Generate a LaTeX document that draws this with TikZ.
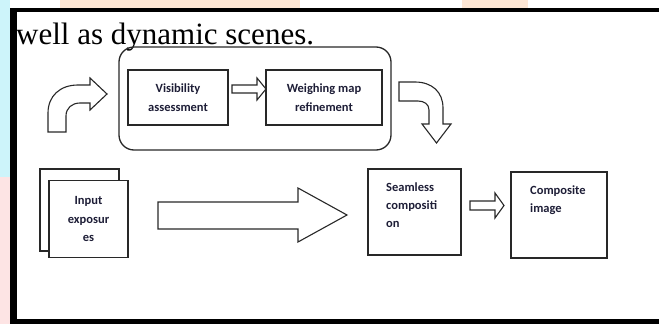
\documentclass[tikz,border=0pt]{standalone}
\usepackage{fontspec}
\setmainfont{Liberation Serif}
\newfontfamily\boxfont{Carlito}
\definecolor{cyanstrip}{RGB}{205,244,250}
\definecolor{pinkstrip}{RGB}{253,228,228}
\definecolor{peach}{RGB}{253,230,212}
\definecolor{txt}{RGB}{30,30,55}
\definecolor{edge}{RGB}{40,40,40}
\tikzset{
  procbox/.style={draw=edge, line width=1.1pt, fill=white, inner sep=0pt, font=\boxfont\bfseries\fontsize{12.5}{18.5}\selectfont, text=txt, align=center},
  boxtext/.style={inner sep=0pt, font=\boxfont\bfseries\fontsize{12.5}{18}\selectfont, text=txt, align=left, anchor=north west},
  blockarrow/.style={draw=edge, line width=1.1pt, fill=white, line join=miter},
}
\begin{document}
\begin{tikzpicture}[x=1pt,y=-1pt]
\useasboundingbox (0,0) rectangle (659,324);
\fill[white] (0,0) rectangle (659,324);
% page background strips
\fill[cyanstrip] (0,0) rectangle (10,177);
\fill[pinkstrip] (0,177) rectangle (10,324);
\fill[peach] (60,0) rectangle (300,8);
\fill[peach] (462,0) rectangle (528,8);
% black frame
\fill[black] (10,8) rectangle (659,12);
\fill[black] (10,8) rectangle (17,324);
\fill[black] (10,319) rectangle (659,324);
% heading text
\node[anchor=base west, inner sep=0pt, font=\fontsize{31}{36}\selectfont] (head) at (16,45) {well as dynamic scenes.};
% rounded group
\node[draw=edge, line width=1.3pt, rounded corners=15pt, minimum width=272pt, minimum height=103pt, inner sep=0pt] (group) at (255,98.5) {};
% process boxes
\node[procbox, minimum width=100pt, minimum height=55pt] (vis) at (178,97.5) {Visibility\\assessment};
\node[procbox, minimum width=116pt, minimum height=55pt] (weigh) at (324,97.5) {Weighing map\\refinement};
\node[procbox, minimum width=79pt, minimum height=82pt] (inback) at (79.5,210) {};
\node[procbox, minimum width=79pt, minimum height=77pt] (input) at (88.5,219) {Input\\exposur\\es};
\node[procbox, minimum width=93pt, minimum height=86pt] (seam) at (414.5,212) {};
\node[boxtext] (seamtxt) at (386,183) {Seamless\\compositi\\on};
\node[procbox, minimum width=96pt, minimum height=86pt] (comp) at (559,215) {};
\node[boxtext] (comptxt) at (530,185.5) {Composite\\image};
% block arrows
\draw[blockarrow] (232,85) -- (257,85) -- (257,78) -- (266,89) -- (257,100) -- (257,93) -- (232,93) -- cycle;
\draw[blockarrow] (158,202) -- (298,202) -- (298,188) -- (347,215) -- (298,242) -- (298,229) -- (158,229) -- cycle;
\draw[blockarrow] (470,201) -- (495,201) -- (495,193) -- (504,205.5) -- (495,218) -- (495,210) -- (470,210) -- cycle;
% curved arrows
\draw[blockarrow] (48,132) -- (48,113) .. controls (48,96) and (60,85) .. (78,85) -- (90,85) -- (90,78) -- (107,94) -- (90,110) -- (90,103) -- (80,103) .. controls (72,103) and (66,108) .. (66,116) -- (66,132) -- cycle;
\draw[blockarrow] (399,82) -- (415,82) .. controls (432,82) and (443,92) .. (443,108) -- (443,124) -- (451,124) -- (436.5,143) -- (422,124) -- (429,124) -- (429,110) .. controls (429,104) and (424,101) .. (418,101) -- (399,101) -- cycle;
\end{tikzpicture}
\end{document}
